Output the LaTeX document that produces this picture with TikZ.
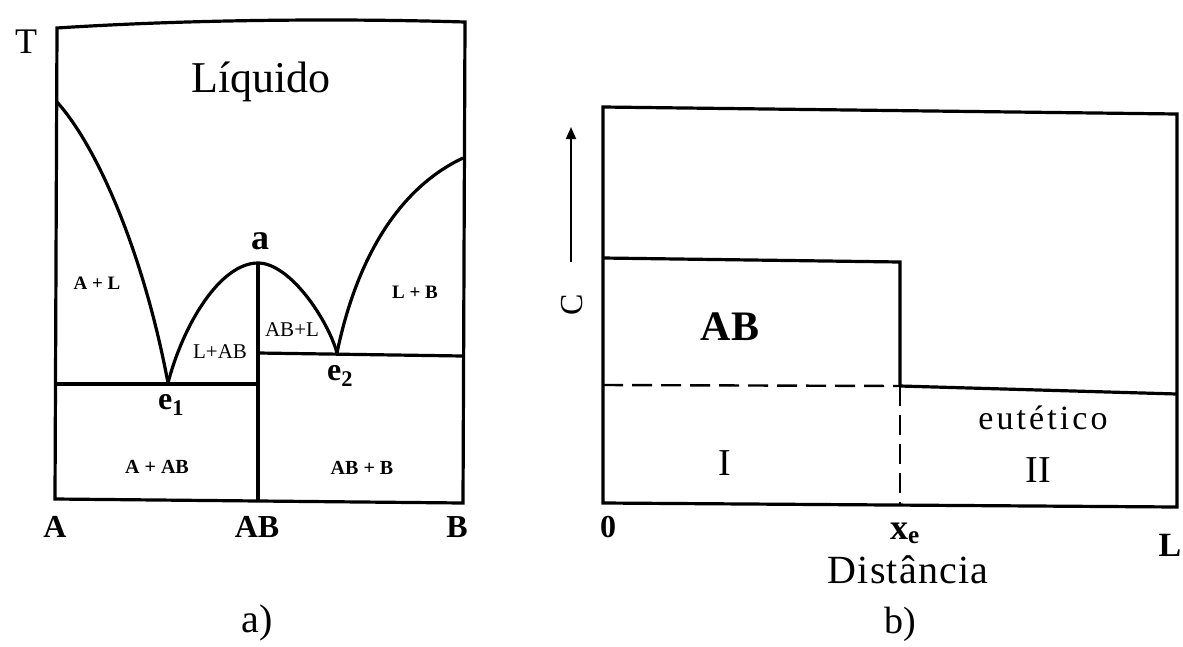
\documentclass[tikz,border=0pt]{standalone}
\usepackage{fontspec}
\setmainfont{Liberation Serif}
\usetikzlibrary{arrows.meta}
\tikzset{
  frame/.style={line width=3.2pt, line join=miter},
  curve/.style={line width=3.2pt},
  dash line/.style={line width=2.4pt, dash pattern=on 20pt off 9pt},
  lbl/.style={inner sep=0pt, font=\fontsize{#1}{#1}\selectfont},
  blbl/.style={inner sep=0pt, font=\fontsize{#1}{#1}\selectfont\bfseries},
}
\begin{document}
\begin{tikzpicture}[x=1pt,y=-1pt]
\useasboundingbox (0,0) rectangle (1183,646);
% ---------- a) phase diagram ----------
\coordinate (tl) at (57,28);
\coordinate (tr) at (465,22);
\coordinate (br) at (463,503);
\coordinate (bl) at (55,499);
\coordinate (lq) at (57,102);
\coordinate (rq) at (463,158);
\coordinate (e1) at (168,383);
\coordinate (e2) at (337,353);
\coordinate (ap) at (258,263);
\coordinate (abb) at (258,501);
\coordinate (e1l) at (56,384);
\coordinate (e1r) at (258,384);
\coordinate (e2r) at (463,356);
\draw[frame] (bl) -- (tl) .. controls (180,20) and (330,18) .. (tr) -- (br) -- cycle;
\draw[curve] (lq) .. controls (100,150) and (145,260) .. (e1);
\draw[curve] (e1) .. controls (183,325) and (220,263) .. (ap);
\draw[curve] (ap) .. controls (290,263) and (328,320) .. (e2);
\draw[curve] (e2) .. controls (355,265) and (395,190) .. (rq);
\draw[frame] (ap) -- (abb);
\draw[frame] (e1l) -- (e1r);
\draw[frame] (e1r |- e2) -- (e2r);

\node[lbl=36] (T) at (26,42) {T};
\node[lbl=44] (liq) at (261,82) {Líquido};
\node[blbl=36] (la) at (260,241) {a};
\node[blbl=19] (AL) at (97,283) {A + L};
\node[blbl=19] (LB) at (415,292) {L + B};
\node[lbl=21] (LAB) at (220,352) {L+AB};
\node[lbl=21] (ABL) at (292,330) {AB+L};
\node[blbl=32] (le1) at (171,405) {e\textsubscript{1}};
\node[blbl=32] (le2) at (340,376) {e\textsubscript{2}};
\node[blbl=20] (AAB) at (157,467) {A + AB};
\node[blbl=20] (ABB) at (362,468) {AB + B};
\node[blbl=32] (xA) at (55,527) {A};
\node[blbl=32] (xAB) at (257,527) {AB};
\node[blbl=32] (xB) at (457,527) {B};
\node[lbl=40] (capa) at (257,623) {a)};

% ---------- b) ----------
\coordinate (Rtl) at (603,107);
\coordinate (Rtr) at (1177,114);
\coordinate (Rbr) at (1177,507);
\coordinate (Rbl) at (603,503);
\coordinate (ABl) at (603,258);
\coordinate (ABr) at (900,262);
\coordinate (xeu) at (900,386);
\coordinate (xeb) at (900,505);
\coordinate (dl) at (603,385);
\coordinate (eur) at (1177,394);
\coordinate (arb) at (571,262);
\coordinate (art) at (571,127);
\draw[frame] (Rtl) -- (Rtr) -- (Rbr) -- (Rbl) -- cycle;
\draw[frame] (ABl) -- (ABr) -- (xeu);
\draw[frame] (xeu) -- (eur);
\draw[dash line] (dl) -- (xeu);
\draw[dash line] (xeu) -- (xeb);
\draw[line width=1.8pt, -{Triangle[length=12pt,width=10pt]}] (arb) -- (art);

\node[lbl=32, rotate=90] (C) at (572,305) {C};
\node[blbl=42] (AB) at (730,327) {AB};
\node[lbl=34, font=\fontsize{34}{34}\selectfont\addfontfeature{LetterSpace=9}] (eut) at (1043,418) {eutético};
\node[lbl=38] (I) at (725,463) {I};
\node[lbl=38] (II) at (1038,470) {II};
\node[blbl=32] (z) at (608,527) {0};
\node[blbl=36] (xe) at (905,533) {x\textsubscript{e}};
\node[blbl=34] (L) at (1170,545) {L};
\node[lbl=40, font=\fontsize{40}{40}\selectfont\addfontfeature{LetterSpace=3}] (dist) at (908,570) {Distância};
\node[lbl=38] (capb) at (900,624) {b)};
\end{tikzpicture}
\end{document}
